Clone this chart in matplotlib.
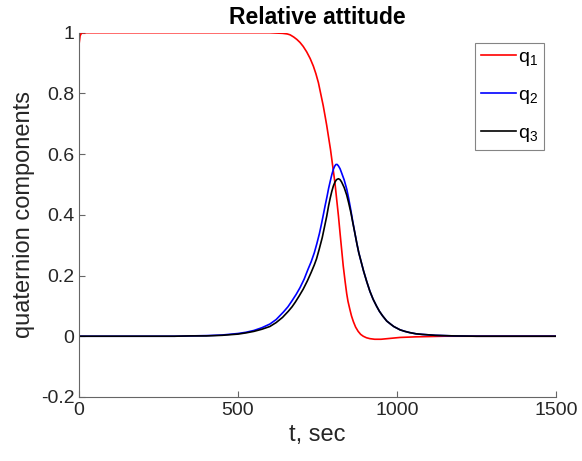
import matplotlib
matplotlib.use("Agg")
import matplotlib.pyplot as plt

plt.rcParams['font.family'] = ['Liberation Sans', 'DejaVu Sans']
plt.rcParams['mathtext.fontset'] = 'custom'
plt.rcParams['mathtext.rm'] = 'Liberation Sans'
plt.rcParams['mathtext.default'] = 'regular'

# values
t1 = [0, 3, 8, 200, 400, 600, 620, 640, 655, 664, 675, 685, 695, 705, 716,
      727, 737, 745, 753, 760, 768, 774, 779, 785, 791, 798, 805, 810, 816,
      821, 826, 831, 837, 842, 846, 852, 857, 863, 870, 878, 886, 894, 904,
      915, 930, 950, 970, 1010, 1060, 1150, 1500]
q1 = [0.965, 0.99, 1.0, 1.0, 1.0, 1.0, 0.999, 0.998, 0.996, 0.993, 0.986,
      0.978, 0.968, 0.955, 0.937, 0.915, 0.89, 0.865, 0.835, 0.80, 0.76,
      0.725, 0.695, 0.655, 0.615, 0.56, 0.505, 0.455, 0.396, 0.34, 0.286,
      0.232, 0.18, 0.14, 0.115, 0.088, 0.067, 0.048, 0.03, 0.016, 0.006, 0.0,
      -0.005, -0.008, -0.01, -0.01, -0.008, -0.004, -0.002, 0.0, 0.0]

t2 = [0, 300, 350, 400, 450, 500, 525, 550, 575, 600, 620, 643, 657, 670,
      683, 695, 708, 720, 730, 740, 748, 756, 762, 768, 774, 780, 785, 790,
      795, 800, 804, 808, 812, 816, 821, 826, 834, 842, 848, 855, 861, 868,
      874, 880, 888, 895, 905, 915, 925, 936, 945, 955, 968, 980, 990, 1010,
      1025, 1040, 1060, 1080, 1120, 1180, 1250, 1500]
q2 = [0, 0, 0.001, 0.002, 0.004, 0.009, 0.013, 0.019, 0.028, 0.04, 0.055,
      0.08, 0.097, 0.117, 0.138, 0.16, 0.188, 0.22, 0.245, 0.275, 0.305,
      0.338, 0.367, 0.398, 0.43, 0.46, 0.487, 0.51, 0.532, 0.55, 0.56, 0.566,
      0.566, 0.561, 0.552, 0.538, 0.515, 0.485, 0.455, 0.415, 0.378, 0.338,
      0.305, 0.275, 0.243, 0.215, 0.18, 0.148, 0.122, 0.099, 0.082, 0.067,
      0.05, 0.04, 0.032, 0.021, 0.016, 0.012, 0.008, 0.006, 0.003, 0.001, 0, 0]

t3 = [0, 300, 350, 400, 450, 500, 525, 550, 575, 600, 620, 640, 658, 670,
      680, 692, 705, 718, 730, 740, 747, 755, 765, 772, 779, 785, 790, 795,
      800, 805, 810, 816, 821, 826, 834, 842, 848, 855, 861, 868, 874, 880,
      888, 895, 905, 915, 925, 936, 945, 955, 968, 980, 990, 1010, 1025, 1040,
      1060, 1080, 1120, 1180, 1250, 1500]
q3 = [0, 0, 0.001, 0.001, 0.003, 0.007, 0.011, 0.016, 0.023, 0.032, 0.045,
      0.062, 0.082, 0.097, 0.112, 0.132, 0.155, 0.182, 0.21, 0.235, 0.255,
      0.285, 0.325, 0.36, 0.395, 0.43, 0.455, 0.477, 0.495, 0.508, 0.516,
      0.519, 0.516, 0.508, 0.49, 0.465, 0.44, 0.408, 0.375, 0.338, 0.305,
      0.275, 0.243, 0.215, 0.18, 0.148, 0.122, 0.099, 0.082, 0.067, 0.05,
      0.04, 0.032, 0.021, 0.016, 0.012, 0.008, 0.006, 0.003, 0.001, 0, 0]

xticks = [0, 500, 1000, 1500]
yticks = [-0.2, 0, 0.2, 0.4, 0.6, 0.8, 1]
ylabels = ['-0.2', '0', '0.2', '0.4', '0.6', '0.8', '1']

fig = plt.figure(figsize=(5.82, 4.61), dpi=100)
ax = fig.add_axes([0.136, 0.139, 0.819, 0.79])

ax.plot(t1, q1, color='#ff0000', lw=1.2, label='q$_1$')
ax.plot(t2, q2, color='#0000ff', lw=1.2, label='q$_2$')
ax.plot(t3, q3, color='#000000', lw=1.2, label='q$_3$')

ax.set_xlim(0, 1500)
ax.set_ylim(-0.2, 1)
ax.set_xticks(xticks)
ax.set_yticks(yticks)
ax.set_yticklabels(ylabels)

for s in ['top', 'right']:
    ax.spines[s].set_visible(False)
for s in ['left', 'bottom']:
    ax.spines[s].set_color('#666666')
    ax.spines[s].set_linewidth(0.8)
ax.tick_params(direction='in', length=4, width=0.8, colors='#666666',
               labelcolor='#262626', labelsize=14)

ax.set_title('Relative attitude', fontsize=16.5, fontweight='bold', pad=6)
ax.set_xlabel('t, sec', fontsize=17, color='#262626')
ax.set_ylabel('quaternion components', fontsize=17, color='#262626')

leg = ax.legend(loc='upper right', bbox_to_anchor=(0.975, 0.973),
                borderaxespad=0, fancybox=False, fontsize=14,
                handlelength=1.8, handletextpad=0.1, labelspacing=0.95,
                borderpad=0.3)
leg.get_frame().set_edgecolor('#666666')
leg.get_frame().set_linewidth(0.8)

fig.savefig('out.png', dpi=100)
